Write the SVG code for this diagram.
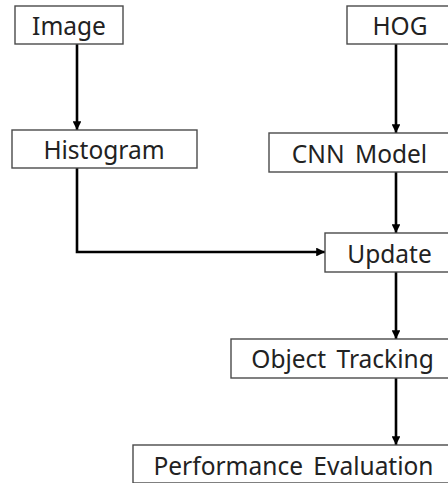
<svg xmlns="http://www.w3.org/2000/svg" width="448" height="483" viewBox="0 0 448 483">
<defs>
<style>
.box{fill:#fff;stroke:#4a4a4a;stroke-width:1.4}
.t{font-family:"Noto Sans","Liberation Sans",sans-serif;font-size:24.5px;word-spacing:4px;fill:#222;text-anchor:middle}
.c{fill:none;stroke:#000;stroke-width:2.6}
</style>
<marker id="ah" viewBox="0 0 10 10" refX="10" refY="5" markerWidth="3.4" markerHeight="3.4" orient="auto" markerUnits="strokeWidth">
<path d="M0,0 L10,5 L0,10 Z" fill="#000"/>
</marker>
</defs>
<rect width="448" height="483" fill="#fff"/>
<g id="connectors">
<path class="c" d="M77,44 V130" marker-end="url(#ah)"/>
<path class="c" d="M396,44 V133" marker-end="url(#ah)"/>
<path class="c" d="M77,168 V252 H325" marker-end="url(#ah)"/>
<path class="c" d="M396,172 V233" marker-end="url(#ah)"/>
<path class="c" d="M396,272 V339" marker-end="url(#ah)"/>
<path class="c" d="M396,378 V445" marker-end="url(#ah)"/>
</g>
<g id="image"><rect class="box" x="15" y="6" width="108" height="38"/><text class="t" x="69" y="35">Image</text></g>
<g id="hog"><rect class="box" x="347" y="6" width="106" height="38"/><text class="t" x="400" y="35">HOG</text></g>
<g id="histogram"><rect class="box" x="12" y="130" width="185" height="38"/><text class="t" x="104" y="159">Histogram</text></g>
<g id="cnn"><rect class="box" x="269" y="133" width="184" height="39"/><text class="t" x="359.5" y="163">CNN Model</text></g>
<g id="update"><rect class="box" x="325" y="233" width="128" height="39"/><text class="t" x="389.5" y="263">Update</text></g>
<g id="tracking"><rect class="box" x="231" y="339" width="222" height="39"/><text class="t" x="342.5" y="368">Object Tracking</text></g>
<g id="evaluation"><rect class="box" x="133" y="445" width="320" height="38"/><text class="t" x="293.5" y="475">Performance Evaluation</text></g>
</svg>
